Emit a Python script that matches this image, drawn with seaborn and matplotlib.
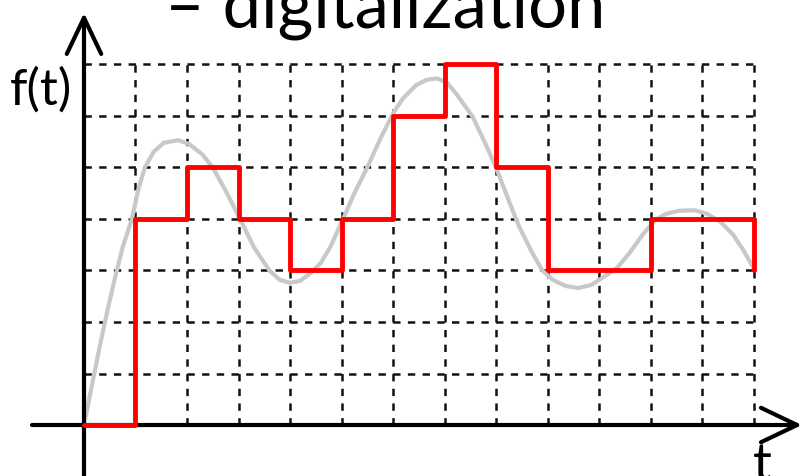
import numpy as np
import pandas as pd
import seaborn as sns
import matplotlib.pyplot as plt

# quantised samples (red staircase): level held from each t until the next
step_t = [0, 1, 2, 3, 4, 5, 6, 7, 8, 9, 10, 11, 12, 13]
step_f = [0, 4, 5, 4, 3, 4, 6, 7, 5, 3, 3, 4, 4, 3]

# analogue signal (grey curve)
curve_t = [0.0, 0.15, 0.3, 0.45, 0.6, 0.75, 0.93, 1.05, 1.18, 1.35, 1.55,
           1.83, 2.05, 2.3, 2.5, 2.75, 3.03, 3.3, 3.6, 3.8, 4.0, 4.2, 4.4,
           4.6, 4.78, 5.03, 5.25, 5.5, 5.75, 6.0, 6.2, 6.45, 6.65, 6.85,
           7.05, 7.25, 7.55, 7.8, 8.02, 8.25, 8.45, 8.7, 8.9, 9.1, 9.35,
           9.6, 9.85, 10.1, 10.35, 10.6, 10.85, 11.09, 11.3, 11.55, 11.86,
           12.1, 12.35, 12.6, 12.8, 13.0]
curve_f = [0.0, 0.75, 1.5, 2.2, 2.85, 3.45, 4.0, 4.55, 5.0, 5.3, 5.48,
           5.53, 5.45, 5.25, 5.0, 4.55, 4.0, 3.45, 3.0, 2.82, 2.76, 2.8,
           2.95, 3.15, 3.45, 4.0, 4.5, 5.0, 5.55, 6.05, 6.35, 6.6, 6.7,
           6.73, 6.65, 6.4, 5.98, 5.45, 4.95, 4.35, 3.85, 3.35, 3.0, 2.82,
           2.7, 2.66, 2.72, 2.88, 3.05, 3.35, 3.7, 3.98, 4.1, 4.16, 4.17,
           4.1, 3.95, 3.7, 3.4, 3.05]

n_cols = 13
n_rows = 7

title = '\u2013 digitalization'
ylabel = 'f(t)'
xlabel = 't'

sns.set_theme(style='white')
plt.rcParams['font.family'] = ['Lato', 'DejaVu Sans']

fig = plt.figure(figsize=(8.03, 4.76), dpi=100)
ax = fig.add_axes([0, 0, 1, 1])
ax.set_xlim(-1.631, 13.961)
ax.set_ylim(-0.990, 8.252)
ax.set_axis_off()

# dashed grid: period of 2 cells holds exactly 7 dash/gap pairs
dash = (0, (2.94, 2.94))
ax.hlines(np.arange(1, n_rows + 1), 0, n_cols, colors='#111111', lw=1.8,
          linestyles=[dash], zorder=1)
ax.vlines(np.arange(1, n_cols + 1), 0, n_rows, colors='#111111', lw=1.8,
          linestyles=[dash], zorder=1)

curve = pd.DataFrame({'t': curve_t, 'f': curve_f})
steps = pd.DataFrame({'t': step_t, 'f': step_f})

sns.lineplot(data=curve, x='t', y='f', ax=ax, color='#c8c8c8', lw=3.0,
             estimator=None, sort=True, zorder=2,
             solid_joinstyle='round', solid_capstyle='round')

# axes with open arrow heads
arrow = dict(arrowstyle='->,head_length=1.3,head_width=0.62', lw=3,
             color='black', shrinkA=0, shrinkB=0, mutation_scale=20)
ax.annotate('', xy=(13.94, 0), xytext=(-1.01, 0), arrowprops=arrow, zorder=3)
ax.annotate('', xy=(0, 8.0), xytext=(0, -1.0), arrowprops=arrow, zorder=3)

sns.lineplot(data=steps, x='t', y='f', ax=ax, color='#ff0000', lw=3.5,
             estimator=None, drawstyle='steps-post', zorder=4)

fig.text(165 / 803, 1 - 28 / 476, title, fontsize=49.5, ha='left',
         va='baseline', color='black')
fig.text(10 / 803, 1 - 105 / 476, ylabel, fontsize=36, ha='left',
         va='baseline', color='black')
fig.text(762 / 803, 1 - 442 / 476, xlabel, fontsize=38, ha='center',
         va='top', color='black')

fig.savefig('out.png', dpi=100)
